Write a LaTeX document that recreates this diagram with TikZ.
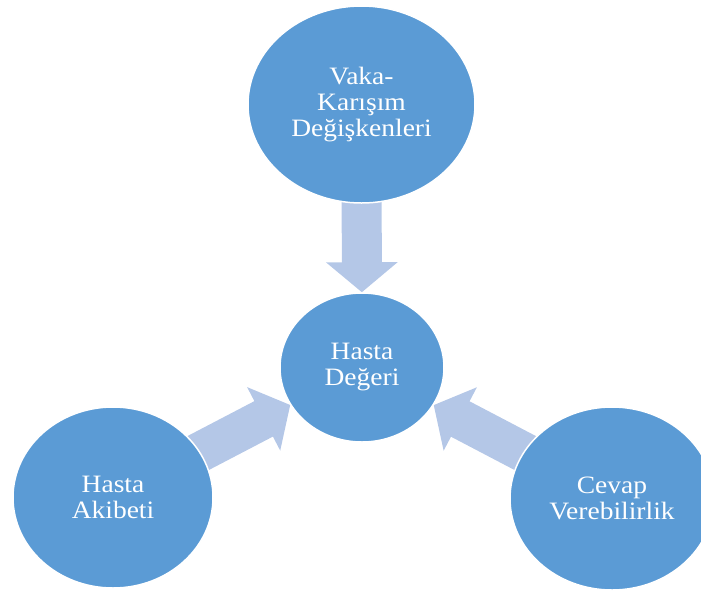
\documentclass[tikz,border=0pt]{standalone}
\usepackage{fontspec}
\setmainfont{Liberation Serif}[FakeStretch=1.1]
\usetikzlibrary{arrows.meta,shapes.geometric,backgrounds}
\definecolor{circblue}{RGB}{91,155,213}
\definecolor{arrowblue}{RGB}{180,199,231}

\begin{document}
\begin{tikzpicture}[x=1pt, y=-1pt,
    factor/.style={ellipse, fill=circblue, draw=white, line width=1.5pt,
      inner sep=0pt, align=center, text=white,
      font=\fontsize{25}{26}\selectfont},
    push/.style={arrowblue, line width=40pt, shorten <=-6pt,
      -{Triangle[length=30pt, width=70pt]}}]
    \useasboundingbox (0,0) rectangle (701,595);
    \clip (0,0) rectangle (701,595);
    % Draw the factors
    \node[factor, minimum width=227pt, minimum height=197pt] (vaka)   at (361.5,104.5) {Vaka-\\Karışım\\Değişkenleri};
    \node[factor, minimum width=164pt, minimum height=149pt] (deger)  at (362,367.5)   {Hasta\\Değeri};
    \node[factor, minimum width=200pt, minimum height=181pt] (akibet) at (113,497.5)   {Hasta\\Akibeti};
    \node[factor, minimum width=204pt, minimum height=183pt] (cevap)  at (612,498.5)   {Cevap\\Verebilirlik};

    % Connect the factors with block arrows
    \begin{scope}[on background layer]
      \draw[push] (vaka) -- (deger);
      \draw[push] (akibet) -- (deger);
      \draw[push] (cevap) -- (deger);
    \end{scope}
\end{tikzpicture}
\end{document}
